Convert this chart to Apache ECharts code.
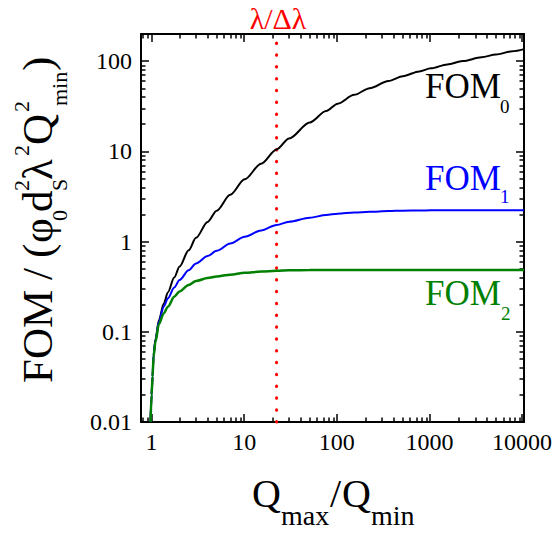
<!DOCTYPE html>
<html>
<head>
<meta charset="utf-8">
<script src="https://cdn.jsdelivr.net/npm/echarts@6/dist/echarts.min.js"></script>
<style>
html,body{margin:0;padding:0;background:#fff;}
#chart{width:555px;height:535px;}
</style>
</head>
<body>
<div id="chart"></div>
<script>
// ---------------- data ----------------
const qRatio = [0.975, 1.0, 1.025, 1.05, 1.1, 1.2, 1.35, 1.5, 1.75, 2, 2.5, 3, 4, 5, 7, 10, 15, 22, 30, 50, 75, 100, 150, 220, 350, 500, 750, 1000, 1500, 2200, 3500, 5000, 7500, 10000];
const fom0 = [0.01, 0.02, 0.032, 0.055, 0.082, 0.135, 0.205, 0.275, 0.40, 0.53, 0.80, 1.1, 1.65, 2.2, 3.3, 4.9, 7.3, 10.5, 13.9, 20.9, 28, 33.8, 42.3, 50.2, 60.4, 68.2, 77, 83.2, 92.1, 100.2, 110.4, 118.6, 128.6, 136];
const fom1 = [0.01, 0.02, 0.032, 0.055, 0.08, 0.13, 0.19, 0.235, 0.31, 0.375, 0.48, 0.57, 0.69, 0.79, 0.95, 1.13, 1.33, 1.53, 1.66, 1.84, 1.97, 2.04, 2.1, 2.14, 2.18, 2.2, 2.21, 2.22, 2.22, 2.23, 2.23, 2.23, 2.23, 2.23];
const fom2 = [0.01, 0.02, 0.032, 0.053, 0.077, 0.122, 0.16, 0.19, 0.245, 0.28, 0.33, 0.365, 0.395, 0.41, 0.43, 0.45, 0.465, 0.475, 0.48, 0.483, 0.485, 0.485, 0.485, 0.485, 0.485, 0.485, 0.485, 0.485, 0.485, 0.485, 0.485, 0.485, 0.485, 0.485];
const resolutionLimit = 22;            // λ/Δλ
const xTickValues = [1, 10, 100, 1000, 10000];
const xTickLabels = ['1', '10', '100', '1000', '10000'];
const yTickValues = [0.01, 0.1, 1, 10, 100];
const yTickLabels = ['0.01', '0.1', '1', '10', '100'];
const minorMantissas = [2, 3, 4, 5, 6, 7, 8, 9];
const xRange = [0.77, 10000];
const yRange = [0.01, 200];

// ---------------- helpers ----------------
const L = Math.log10;
const FONT = '"Liberation Serif","Times New Roman",serif';
const PLOT = { left: 141, top: 34, width: 383, height: 388 };
const X_LO = L(xRange[0]), X_HI = L(xRange[1]);
const Y_LO = L(yRange[0]), Y_HI = L(yRange[1]);
const SX = PLOT.width / (X_HI - X_LO);
const SY = PLOT.height / (Y_HI - Y_LO);

const grids = [], xAxes = [], yAxes = [];

// grid 0: data grid with the frame lines
grids.push(Object.assign({}, PLOT));
['bottom', 'top'].forEach(p => xAxes.push({ type: 'value', gridIndex: 0, position: p, min: X_LO, max: X_HI,
  axisLine: { show: true, onZero: false, lineStyle: { color: '#000', width: 2 } }, axisTick: { show: false }, axisLabel: { show: false }, splitLine: { show: false } }));
['left', 'right'].forEach(p => yAxes.push({ type: 'value', gridIndex: 0, position: p, min: Y_LO, max: Y_HI,
  axisLine: { show: true, onZero: false, lineStyle: { color: '#000', width: 2 } }, axisTick: { show: false }, axisLabel: { show: false }, splitLine: { show: false } }));

// tick grids: each one holds a family of ticks one decade apart (first value, first*10, ...).
// Axis values count decades from the first tick, so min = 0 and interval = 1.
function addXTickGrid(first, last, len, labels) {
  const g = grids.length, lo = L(first), n = Math.round(L(last) - lo);
  grids.push({ left: PLOT.left + (lo - X_LO) * SX, width: n * SX, top: PLOT.top, height: PLOT.height });
  ['bottom', 'top'].forEach(p => xAxes.push({ type: 'value', gridIndex: g, position: p, min: 0, max: n, interval: 1,
    axisLine: { show: false, onZero: false }, splitLine: { show: false },
    axisTick: { show: true, inside: true, length: len, lineStyle: { color: '#000', width: 1.5 } },
    axisLabel: { show: !!labels && p === 'bottom', formatter: v => labels ? (labels[Math.round(v)] || '') : '',
      fontFamily: FONT, fontSize: 24, color: '#000', margin: 8 } }));
  yAxes.push({ type: 'value', gridIndex: g, show: false, min: 0, max: 1 });
}
function addYTickGrid(first, last, len, labels) {
  const g = grids.length, lo = L(first), n = Math.round(L(last) - lo);
  grids.push({ left: PLOT.left, width: PLOT.width, top: PLOT.top + (Y_HI - (lo + n)) * SY, height: n * SY });
  ['left', 'right'].forEach(p => yAxes.push({ type: 'value', gridIndex: g, position: p, min: 0, max: n, interval: 1,
    axisLine: { show: false, onZero: false }, splitLine: { show: false },
    axisTick: { show: true, inside: true, length: len, lineStyle: { color: '#000', width: 1.5 } },
    axisLabel: { show: !!labels && p === 'left', formatter: v => labels ? (labels[Math.round(v)] || '') : '',
      fontFamily: FONT, fontSize: 24, color: '#000', margin: 9 } }));
  xAxes.push({ type: 'value', gridIndex: g, show: false, min: 0, max: 1 });
}
// major ticks + labels
addXTickGrid(xTickValues[0], xTickValues[xTickValues.length - 1], 8, xTickLabels);
addYTickGrid(yTickValues[0], yTickValues[yTickValues.length - 1], 8, yTickLabels);
// minor ticks (2..9 in every decade)
minorMantissas.forEach(m => {
  let lo = m; while (lo / 10 >= xRange[0] - 1e-12) lo /= 10;
  let hi = lo; while (hi * 10 <= xRange[1] + 1e-9) hi *= 10;
  addXTickGrid(lo, hi, 4.5, null);
  let ylo = m; while (ylo / 10 >= yRange[0] - 1e-12) ylo /= 10;
  let yhi = ylo; while (yhi * 10 <= yRange[1] + 1e-9) yhi *= 10;
  addYTickGrid(ylo, yhi, 4.5, null);
});

function curve(ys) { return qRatio.map((x, i) => [L(x), L(ys[i])]); }

function txt(x, y, text, size, color, align) {
  return {
    type: 'text', x: x, y: y, silent: true,
    style: { text: text, fill: color || '#000', font: size + 'px ' + FONT,
      textAlign: align || 'left', align: align || 'left',
      textVerticalAlign: 'middle', verticalAlign: 'middle' }
  };
}
// baseline -> middle
function mid(baseline, size) { return baseline - 0.3375 * size; }

// y-axis title pieces (local coords of rotated group: lx = -screenY, ly = screenX)
const YS = 43, YSS = 22, yBase = 52, ySub = 67, ySup = 29;
const yTitle = [
  txt(-383, mid(yBase, YS), 'FOM', YS),
  txt(-280, mid(yBase, YS), '/', YS),
  txt(-258, mid(yBase, YS), '(', YS),
  txt(-243, mid(yBase, YS), 'φ', YS),
  txt(-221, mid(ySub, YSS), '0', YSS),
  txt(-212, mid(yBase, YS), 'd', YS),
  txt(-191, mid(ySup, YSS), '2', YSS),
  txt(-191, mid(ySub, YSS), 'S', YSS),
  txt(-180, mid(yBase, YS), 'λ', YS),
  txt(-156, mid(ySup, YSS), '2', YSS),
  txt(-145, mid(yBase, YS), 'Q', YS),
  txt(-112, mid(ySup, YSS), '2', YSS),
  txt(-106, mid(ySub, YSS), 'min', YSS),
  txt(-71, mid(yBase, YS), ')', YS)
];

const option = {
  animation: false,
  backgroundColor: '#fff',
  grid: grids,
  xAxis: xAxes,
  yAxis: yAxes,
  series: [
    { name: 'λ/Δλ', type: 'line', xAxisIndex: 0, yAxisIndex: 0, symbol: 'none', clip: false, silent: true,
      data: [[L(resolutionLimit), Y_LO], [L(resolutionLimit), Y_HI]],
      lineStyle: { color: '#ff0000', width: 3, type: [0.5, 11.33], cap: 'round' } },
    { name: 'FOM0', type: 'line', xAxisIndex: 0, yAxisIndex: 0, symbol: 'none', smooth: 0.3, smoothMonotone: 'x',
      data: curve(fom0), lineStyle: { color: '#000000', width: 2 } },
    { name: 'FOM1', type: 'line', xAxisIndex: 0, yAxisIndex: 0, symbol: 'none', smooth: 0.3, smoothMonotone: 'x',
      data: curve(fom1), lineStyle: { color: '#0000ff', width: 2 } },
    { name: 'FOM2', type: 'line', xAxisIndex: 0, yAxisIndex: 0, symbol: 'none', smooth: 0.3, smoothMonotone: 'x',
      data: curve(fom2), lineStyle: { color: '#008000', width: 2.5 } }
  ],
  graphic: { elements: [
    txt(278, 18, 'λ/Δλ', 30, '#ff0000', 'center'),
    txt(425, mid(98, 35), 'FOM', 35, '#000000'),
    txt(500, mid(113, 19), '0', 19, '#000000'),
    txt(425, mid(190, 35), 'FOM', 35, '#0000ff'),
    txt(500, mid(203, 19), '1', 19, '#0000ff'),
    txt(425, mid(305, 35), 'FOM', 35, '#008000'),
    txt(501, mid(320, 19), '2', 19, '#008000'),
    // x-axis title
    txt(252, mid(507, 40), 'Q', 40),
    txt(281, mid(525, 28), 'max', 28),
    txt(330, mid(507, 40), '/', 40),
    txt(342, mid(507, 40), 'Q', 40),
    txt(371, mid(525, 28), 'min', 28),
    { type: 'group', x: 0, y: 0, rotation: Math.PI / 2, children: yTitle }
  ] }
};

const chart = echarts.init(document.getElementById('chart'), null, { renderer: 'svg' });
chart.setOption(option);
</script>
</body>
</html>
